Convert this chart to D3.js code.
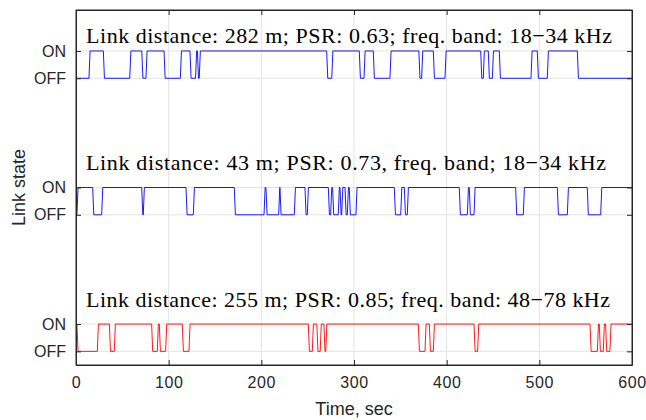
<!DOCTYPE html>
<html>
<head>
<meta charset="utf-8">
<script src="https://cdn.jsdelivr.net/npm/d3@7"></script>
<style>
  body { margin: 0; background: #fff; }
  text { fill: #262626; }
</style>
</head>
<body>
<div id="chart"></div>
<script>
// toggle times (sec) for each link, plus the state at t = 0
let labels = [
  'Link distance: 282 m; PSR: 0.63; freq. band: 18\u221234 kHz',
  'Link distance: 43 m; PSR: 0.73, freq. band; 18\u221234 kHz',
  'Link distance: 255 m; PSR: 0.85; freq. band: 48\u221278 kHz'
];
let colors = ['#0000ff', '#0000ff', '#ff0000'];
let offsets = [10, 5, 0];        // OFF level of each row
let startState = [0, 0, 1];
let toggles282 = [14, 29.5, 58, 71, 75.5, 95, 112.6, 123, 129, 131, 133, 270.5, 276, 305.7, 310.8,
  320.8, 338.8, 370, 373, 385.6, 398.2, 436.7, 439.5, 444.9, 449.3, 456.8, 491, 497.8, 508.6, 541];
let toggles43 = [1, 18, 27.7, 70.9, 72.6, 118.7, 126.6, 170.8, 202.9, 205, 218.7, 220.1, 235.6, 247.1,
  249.6, 272.3, 274.8, 276.9, 283, 284.9, 286.7, 290.3, 292.8, 294.9, 302.1, 343.5, 350.4, 354.3,
  357.5, 413.6, 422.3, 424.4, 429.5, 474.4, 482.7, 519.4, 530.2, 551.7, 566.2];
let toggles255 = [1, 23, 36, 41.3, 81.6, 87.7, 89.9, 96.7, 114.7, 121.9, 250.7, 255, 259.9, 263.5,
  267.5, 269.5, 369.4, 376.6, 381.3, 385.6, 429.5, 433.4, 554.7, 562.6, 564.7, 569, 571.5, 576.2];
let toggleSets = [toggles282, toggles43, toggles255];
let xTicks = [0, 100, 200, 300, 400, 500, 600];
let yTicks = [0, 1, 5, 6, 10, 11];
let yTickText = ['OFF', 'ON', 'OFF', 'ON', 'OFF', 'ON'];

let W = 646, H = 420;
let m = { left: 76, right: 632, top: 10, bottom: 365 };
let labelY = [11.29, 6.64, 1.62];
let labelW = [526, 520, 524];
let ramp = 1.2;

let svg = d3.select('#chart').append('svg')
    .attr('width', W)
    .attr('height', H);

let X = d3.scaleLinear().domain([0, 600]).range([m.left, m.right]);
let Y = d3.scaleLinear().domain([-0.5, 12.5]).range([m.bottom, m.top]);

// Grid
svg.append('g').selectAll('line')
  .data(xTicks.slice(1, -1))
  .enter().append('line')
    .attr('x1', d => X(d)).attr('x2', d => X(d))
    .attr('y1', m.top).attr('y2', m.bottom)
    .attr('stroke', '#e3e3e3').attr('stroke-width', 1);
svg.append('g').selectAll('line')
  .data(yTicks)
  .enter().append('line')
    .attr('x1', m.left).attr('x2', m.right)
    .attr('y1', d => Y(d)).attr('y2', d => Y(d))
    .attr('stroke', '#e3e3e3').attr('stroke-width', 1);

// Lines
let line = d3.line().x(d => X(d[0])).y(d => Y(d[1]));
toggleSets.forEach(function (tg, i) {
  let s = startState[i];
  let pts = [[0, offsets[i] + s]];
  tg.forEach(function (t) {
    pts.push([t, offsets[i] + s]);
    s = 1 - s;
    pts.push([t + ramp, offsets[i] + s]);
  });
  pts.push([600, offsets[i] + s]);
  svg.append('path')
    .datum(pts)
    .attr('fill', 'none')
    .attr('stroke', colors[i])
    .attr('stroke-width', 0.9)
    .attr('d', line);
});

// Axes
let xAxis = d3.axisBottom(X).tickValues(xTicks).tickSizeInner(-5).tickSizeOuter(0).tickPadding(12);
let gx = svg.append('g').attr('transform', 'translate(0,' + m.bottom + ')').call(xAxis);
let xTop = d3.axisTop(X).tickValues(xTicks).tickSizeInner(-5).tickSizeOuter(0).tickFormat('');
let gxt = svg.append('g').attr('transform', 'translate(0,' + m.top + ')').call(xTop);
let yAxis = d3.axisLeft(Y).tickValues(yTicks).tickSizeInner(-5).tickSizeOuter(0).tickPadding(10)
    .tickFormat((d, i) => yTickText[i]);
let gy = svg.append('g').attr('transform', 'translate(' + m.left + ',0)').call(yAxis);
let yRight = d3.axisRight(Y).tickValues(yTicks).tickSizeInner(-5).tickSizeOuter(0).tickFormat('');
let gyr = svg.append('g').attr('transform', 'translate(' + m.right + ',0)').call(yRight);

[gx, gxt, gy, gyr].forEach(function (g) {
  g.selectAll('path').attr('stroke', '#262626');
  g.selectAll('line').attr('stroke', '#262626');
  g.selectAll('text')
    .attr('fill', '#262626')
    .attr('font-family', 'Liberation Sans, Arial, sans-serif')
    .attr('font-size', '16px');
});
gx.selectAll('text').attr('letter-spacing', '0.6px');

// Box
svg.append('rect')
    .attr('x', m.left).attr('y', m.top)
    .attr('width', m.right - m.left).attr('height', m.bottom - m.top)
    .attr('fill', 'none').attr('stroke', '#262626').attr('stroke-width', 1);

// Row labels
svg.append('g').selectAll('text')
  .data(labels)
  .enter().append('text')
    .attr('x', X(10.8))
    .attr('y', (d, i) => Y(labelY[i]))
    .attr('font-family', 'Liberation Serif, Times New Roman, serif')
    .attr('font-size', '22px')
    .attr('textLength', (d, i) => labelW[i])
    .attr('lengthAdjust', 'spacing')
    .style('fill', '#000')
    .text(d => d);

// Axis labels
svg.append('text')
    .attr('x', (m.left + m.right) / 2)
    .attr('y', 415)
    .attr('text-anchor', 'middle')
    .attr('font-family', 'Liberation Sans, Arial, sans-serif')
    .attr('font-size', '18px')
    .text('Time, sec');

svg.append('text')
    .attr('transform', 'translate(25,' + (m.top + m.bottom) / 2 + ') rotate(-90)')
    .attr('text-anchor', 'middle')
    .attr('font-family', 'Liberation Sans, Arial, sans-serif')
    .attr('font-size', '18px')
    .text('Link state');
</script>
</body>
</html>
